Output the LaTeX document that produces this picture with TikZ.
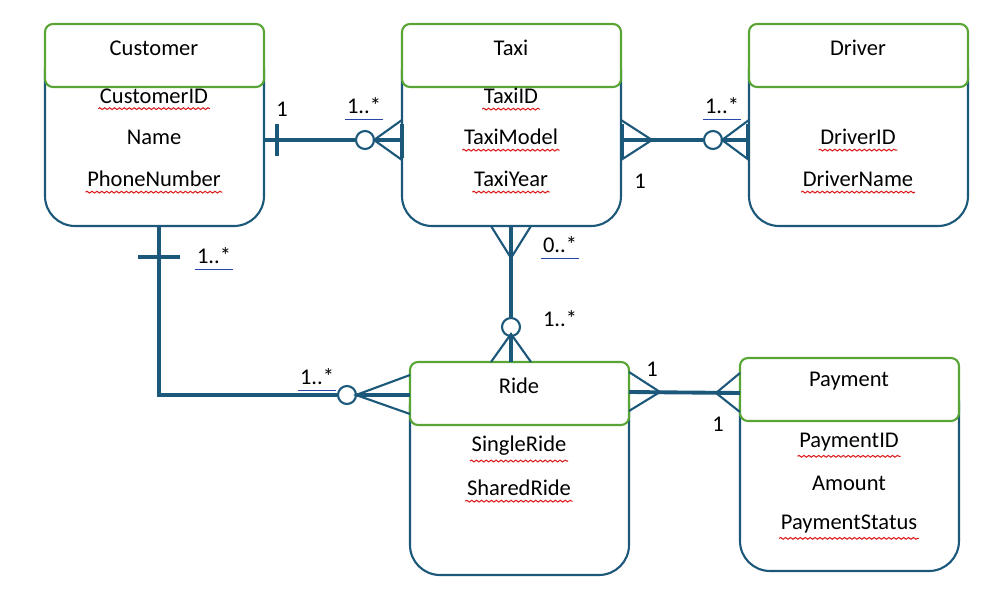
\documentclass[tikz,border=0pt]{standalone}
\usepackage{fontspec}
\setmainfont{Carlito}
\usetikzlibrary{positioning}
\usetikzlibrary{decorations.pathmorphing}
\definecolor{line}{RGB}{27,88,122}
\definecolor{head}{RGB}{88,164,52}
\definecolor{spell}{RGB}{220,30,30}
\definecolor{ulink}{RGB}{40,70,170}

\tikzset{
	body/.style={draw=line,line width=0.6pt,fill=white,rounded corners=3mm},
	header/.style={draw=head,line width=0.6pt,fill=white,rounded corners=0.8mm},
	txt/.style={font=\fontsize{6.4}{7.5}\selectfont,inner sep=0.3pt},
	rel/.style={line,line width=1.1pt},
	foot/.style={line,line width=0.6pt},
	ring/.style={draw=line,line width=0.6pt,fill=white,circle,minimum size=1.8mm,inner sep=0pt},
	squig/.style={spell,line width=0.3pt,decorate,decoration={snake,amplitude=0.25pt,segment length=1.4pt}},
	card/.style={txt,font=\fontsize{6.4}{7.5}\selectfont}
}
\newcommand{\spellline}[1]{\draw[squig] ([yshift=-1pt]#1.south west) -- ([yshift=-1pt]#1.south east);}
\newcommand{\uline}[1]{\draw[ulink,line width=0.3pt] ([yshift=-1pt]#1.south west) -- ([yshift=-1pt]#1.south east);}

\begin{document}
\begin{tikzpicture}[x=0.1mm,y=-0.1mm]
	\useasboundingbox (0,0) rectangle (1000,606);

	% entities
	\draw[body] (45,40) rectangle (264,226);
	\draw[header] (45,24) rectangle (264,87);
	\draw[body] (402,40) rectangle (621,226);
	\draw[header] (402,24) rectangle (621,87);
	\draw[body] (749,40) rectangle (968,226);
	\draw[header] (749,24) rectangle (968,87);
	\draw[body] (410,375) rectangle (629,575);
	\draw[header] (410,362) rectangle (629,425);
	\draw[body] (740,372) rectangle (959,571);
	\draw[header] (740,358) rectangle (959,421);

	\node[txt] (customer) at (154,48) {Customer};
	\node[txt] (custid) at (154,96) {CustomerID};
	\node[txt] (custname) at (154,137) {Name};
	\node[txt] (custphone) at (154,179) {PhoneNumber};
	\node[txt] (taxi) at (511,48) {Taxi};
	\node[txt] (taxiid) at (511,96) {TaxiID};
	\node[txt] (taximodel) at (511,137) {TaxiModel};
	\node[txt] (taxiyear) at (511,179) {TaxiYear};
	\node[txt] (driver) at (858,48) {Driver};
	\node[txt] (driverid) at (858,137) {DriverID};
	\node[txt] (drivername) at (858,179) {DriverName};
	\node[txt] (ride) at (519,386) {Ride};
	\node[txt] (single) at (519,446) {SingleRide};
	\node[txt] (shared) at (519,488) {SharedRide};
	\node[txt] (payment) at (849,381) {Payment};
	\node[txt] (payid) at (849,442) {PaymentID};
	\node[txt] (amount) at (849,483) {Amount};
	\node[txt] (paystatus) at (849,524) {PaymentStatus};

	\spellline{custid}
	\spellline{custphone}
	\spellline{taxiid}
	\spellline{taximodel}
	\spellline{taxiyear}
	\spellline{driverid}
	\spellline{drivername}
	\spellline{single}
	\spellline{shared}
	\spellline{payid}
	\spellline{paystatus}

	% Customer -- Taxi
	\coordinate (ct1) at (264,140);
	\coordinate (ct2) at (402,140);
	\node[ring] (ctring) at (365,140) {};
	\draw[rel] (ct1) -- (ctring) (ctring) -- (ct2);
	\draw[rel] (277,124) -- (277,156);
	\draw[rel] (402,124) -- (402,158);
	\draw[foot] (402,120) -- (374,140) -- (402,160);
	\node[card] (c1) at (282,109) {1};
	\node[card] (c2) at (364,106) {1..*};
	\uline{c2}

	% Taxi -- Driver
	\coordinate (td1) at (621,140);
	\coordinate (td2) at (749,140);
	\node[ring] (tdring) at (713,140) {};
	\draw[rel] (td1) -- (tdring) (tdring) -- (td2);
	\draw[foot] (621,120) -- (652,140) -- (621,160);
	\draw[rel] (622,124) -- (622,158);
	\draw[foot] (749,120) -- (722,140) -- (749,160);
	\draw[rel] (748,124) -- (748,158);
	\node[card] (d1) at (640,181) {1};
	\node[card] (d2) at (722,106) {1..*};
	\uline{d2}

	% Taxi -- Ride
	\coordinate (tr1) at (511,226);
	\coordinate (tr2) at (511,362);
	\node[ring] (trring) at (511,327) {};
	\draw[rel] (tr1) -- (trring) (trring) -- (tr2);
	\draw[foot] (491,226) -- (511,258) -- (531,226);
	\draw[foot] (491,362) -- (511,334) -- (531,362);
	\node[card] (r1) at (560,245) {0..*};
	\node[card] (r2) at (560,319) {1..*};
	\uline{r1}

	% Customer -- Ride
	\coordinate (cr1) at (159,226);
	\coordinate (crbend) at (159,395);
	\coordinate (cr2) at (410,395);
	\node[ring] (crring) at (347,395) {};
	\draw[rel] (cr1) -- (crbend) -- (crring) (crring) -- (cr2);
	\draw[rel] (138,257) -- (180,257);
	\draw[foot] (410,375) -- (356,395) -- (410,414);
	\node[card] (e1) at (214,256) {1..*};
	\node[card] (e2) at (317,377) {1..*};
	\uline{e1}
	\uline{e2}

	% Ride -- Payment
	\coordinate (rp1) at (629,392);
	\coordinate (rp2) at (740,393);
	\draw[rel] (rp1) -- (rp2);
	\draw[foot] (629,372) -- (660,392) -- (629,411);
	\draw[foot] (740,373) -- (716,393) -- (740,412);
	\node[card] (p1) at (652,369) {1};
	\node[card] (p2) at (718,424) {1};
\end{tikzpicture}
\end{document}
